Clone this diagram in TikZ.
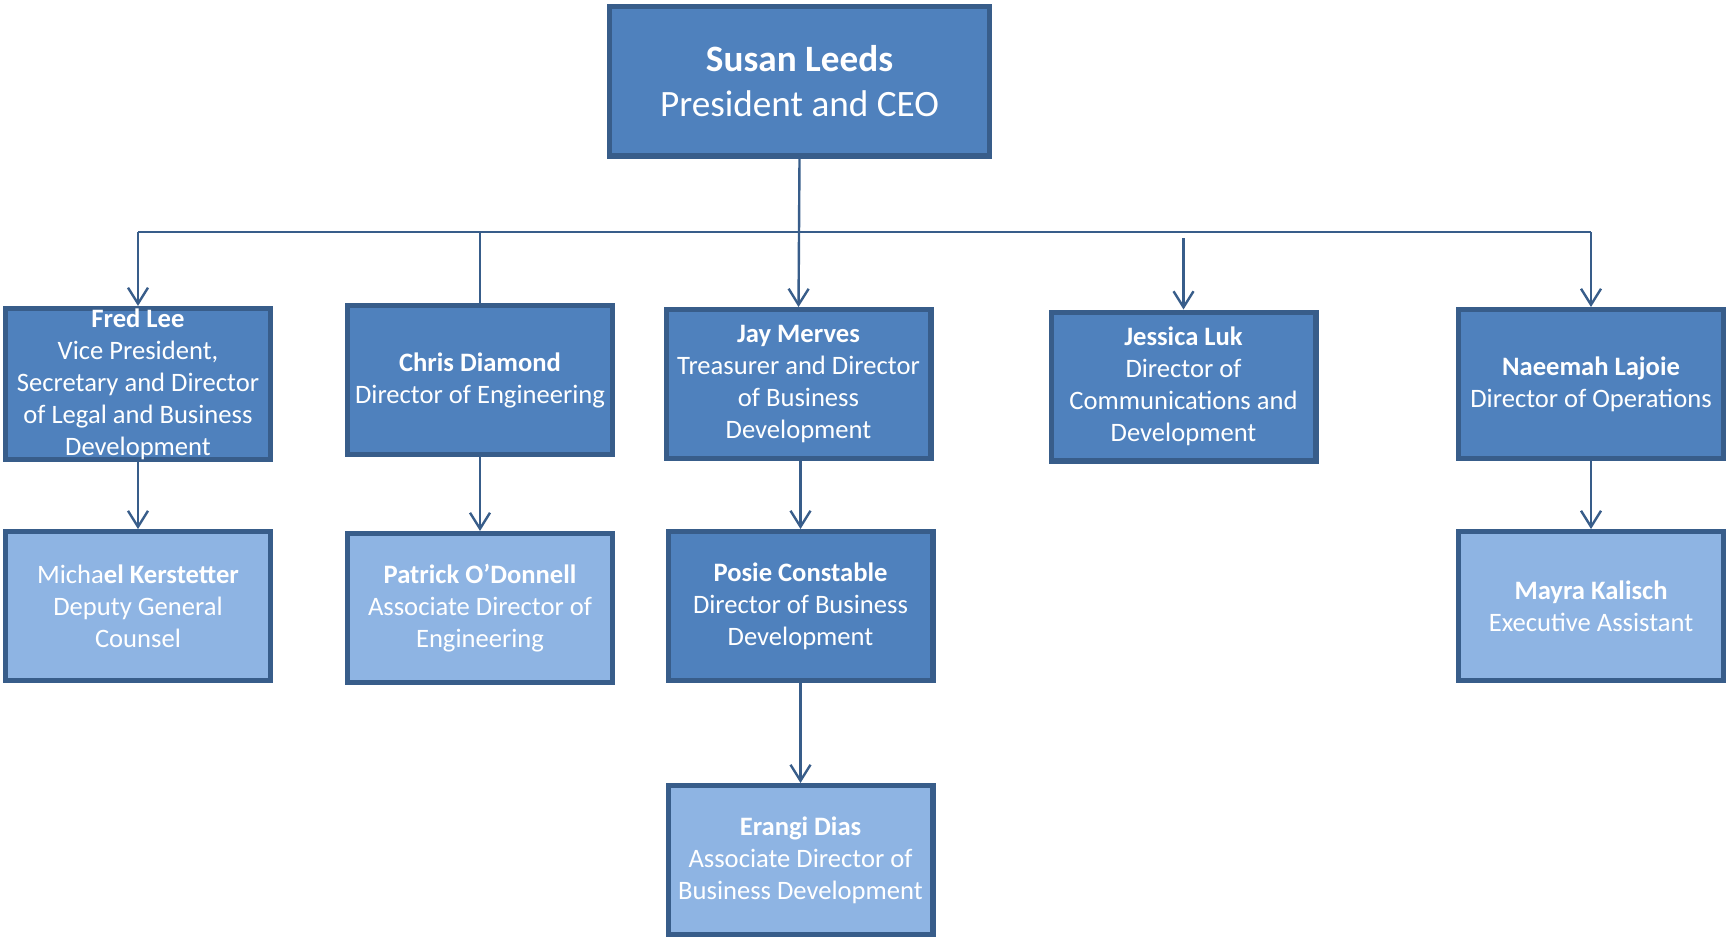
\documentclass[tikz,border=0pt]{standalone}
\usepackage{fontspec}
\setmainfont{Carlito}
\usepackage{xcolor}
\usetikzlibrary{arrows.meta,positioning}

\definecolor{boxdark}{HTML}{4F81BD}
\definecolor{boxlight}{HTML}{8EB4E3}
\definecolor{boxedge}{HTML}{385D8A}

\begin{document}
\begin{tikzpicture}[
    x=0.5pt, y=-0.5pt,
    font=\fontsize{13.3}{16}\selectfont,
    >={Straight Barb[length=8pt,width=10pt]},
    node distance=34pt,
    person/.style={draw=boxedge, line width=2.6pt, fill=boxdark, text=white, align=center, inner sep=0pt, minimum width=132.4pt, minimum height=74.4pt},
    assoc/.style={person, fill=boxlight},
    flow/.style={->, draw=boxedge, line width=1.2pt},
    link/.style={draw=boxedge, line width=1.2pt}
]
\useasboundingbox (0,0) rectangle (1727,937);

\node[person, minimum width=189.9pt, minimum height=74.9pt, font=\fontsize{18.6}{22.5}\selectfont] (ceo) at (799.5,81) {\textbf{Susan Leeds}\\President and CEO};

\node[person] (fred) at (138,384) {\textbf{Fred Lee}\\Vice President,\\Secretary and Director\\of Legal and Business\\Development};
\node[person] (chris) at (480,380) {\textbf{Chris Diamond}\\Director of Engineering};
\node[person] (jay) at (798.5,384) {\textbf{Jay Merves}\\Treasurer and Director\\of Business\\Development};
\node[person] (jessica) at (1183.5,386.5) {\textbf{Jessica Luk}\\Director of\\Communications and\\Development};
\node[person] (naeemah) at (1591,384) {\textbf{Naeemah Lajoie}\\Director of Operations};

\node[assoc, below=33.5pt of fred] (michael) {Micha\textbf{el Kerstetter}\\Deputy General\\Counsel};
\node[assoc, below=37pt of chris] (patrick) {\textbf{Patrick O’Donnell}\\Associate Director of\\Engineering};
\node[person, below=34pt of jay, xshift=1pt] (posie) {\textbf{Posie Constable}\\Director of Business\\Development};
\node[assoc, below=50pt of posie] (erangi) {\textbf{Erangi Dias}\\Associate Director of\\Business Development};
\node[assoc, below=34pt of naeemah] (mayra) {\textbf{Mayra Kalisch}\\Executive Assistant};

\coordinate (bus) at (0,232);
\coordinate (jessgap) at (1183.5,238);

% main branch
\draw[link] (bus -| fred) -- (bus -| naeemah);
\draw[flow] (ceo.south) -- (jay.north);
\draw[flow] (bus -| fred) -- (fred.north);
\draw[link] (bus -| chris) -- (chris.north);
\draw[flow] (jessgap) -- (jessica.north);
\draw[flow] (bus -| naeemah) -- (naeemah.north);

% second level
\draw[flow] (fred) -- (michael);
\draw[flow] (chris) -- (patrick);
\draw[flow] (jay.south -| posie) -- (posie);
\draw[flow] (posie) -- (erangi);
\draw[flow] (naeemah) -- (mayra);
\end{tikzpicture}
\end{document}
